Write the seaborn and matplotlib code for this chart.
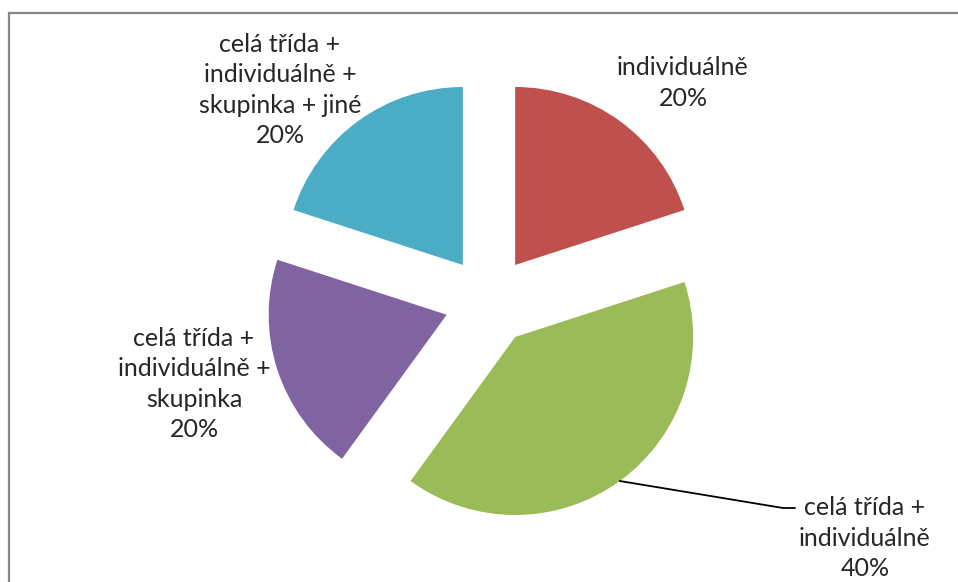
import matplotlib
matplotlib.use("Agg")
import matplotlib.pyplot as plt
import matplotlib.patches as mpatches
import numpy as np
import seaborn as sns

# data
categories = [
    "individuálně",
    "celá třída +\nindividuálně",
    "celá třída +\nindividuálně +\nskupinka",
    "celá třída +\nindividuálně +\nskupinka + jiné",
]
shares = [20, 40, 20, 20]
palette = ["#C0504D", "#9BBB59", "#8064A2", "#4BACC6"]

sns.set_theme(style="white")
plt.rcParams["font.family"] = ["Lato", "DejaVu Sans"]

W, H = 958, 582
fig = plt.figure(figsize=(W / 100, H / 100), dpi=100)
ax = fig.add_axes([0, 0, 1, 1])

center = (489, H - 301)
radius = 178
# explode in matplotlib is an absolute offset in data units
wedges, _ = ax.pie(
    shares,
    colors=sns.color_palette(palette),
    startangle=90,
    counterclock=False,
    explode=[0.25 * radius] * len(shares),
    radius=radius,
    center=center,
    wedgeprops=dict(linewidth=0),
)
ax.set_xlim(0, W)
ax.set_ylim(0, H)
ax.set_aspect("equal")
ax.axis("off")

# chart frame (only top and left visible in the reference)
ax.add_patch(mpatches.Rectangle((9, -20), W + 20, H - 13 + 20, fill=False,
                                edgecolor="#878787", linewidth=1.6, zorder=5))

# label placement (pixel positions of label block centres)
label_pos = [(683, 83), (865, 538), (194, 384), (280, 90)]
txt_kw = dict(ha="center", va="center", multialignment="center",
              fontsize=18, color="#262626", linespacing=1.38)

for w, cat, val, (lx, ly) in zip(wedges, categories, shares, label_pos):
    text = f"{cat}\n{val}%"
    if val == 40:
        ang = np.deg2rad((w.theta1 + w.theta2) / 2)
        cx, cy = w.center
        px = cx + w.r * np.cos(ang)
        py = cy + w.r * np.sin(ang)
        ax.plot([px, 783, 795], [py, H - 508, H - 508], color="black", lw=1.3)
    ax.text(lx, H - ly, text, **txt_kw)

fig.savefig("out.png", dpi=100, facecolor="white")
